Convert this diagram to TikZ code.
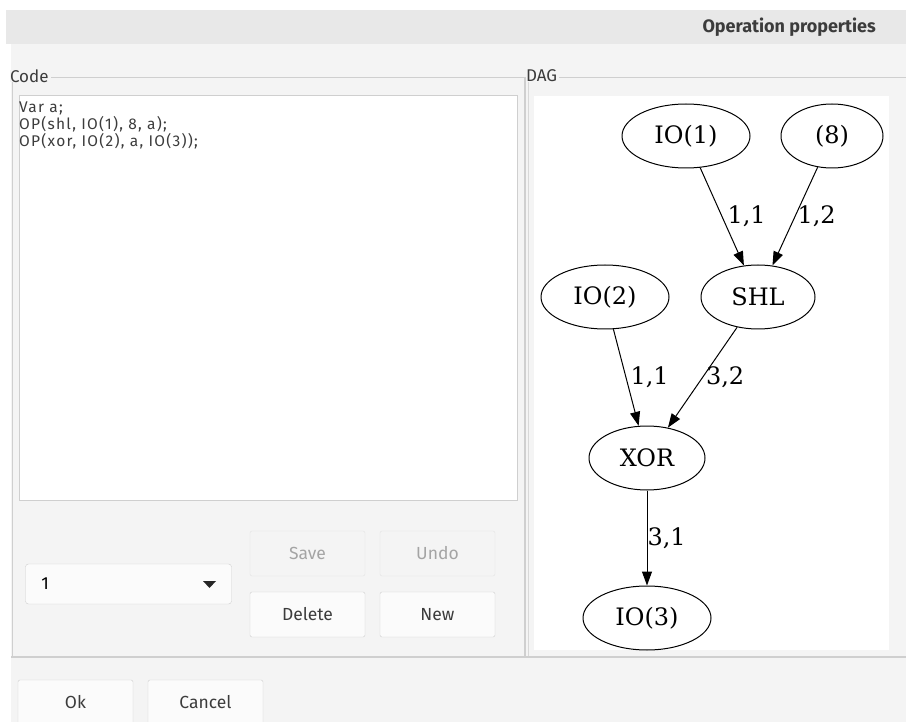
\documentclass[tikz,border=0pt]{standalone}
\usepackage{fontspec}
\setmainfont{Fira Sans}
\newfontfamily\dagfont{DejaVu Serif}
\usetikzlibrary{arrows.meta}
\usetikzlibrary{shapes.geometric}
\usetikzlibrary{positioning}

\definecolor{winbg}{HTML}{F4F4F4}
\definecolor{headbg}{HTML}{E8E8E8}
\definecolor{frameline}{HTML}{CFCFCF}
\definecolor{uitext}{HTML}{3C3C3C}
\definecolor{greytext}{HTML}{A4A4A4}

\tikzset{
	uibutton/.style={draw=frameline, fill=white!60!winbg, rounded corners=2pt,
		minimum width=115pt, minimum height=45pt, inner sep=0pt,
		font=\fontsize{17.5}{20}\selectfont, text=uitext},
	offbutton/.style={uibutton, draw=frameline!60, fill=winbg, text=greytext},
	grouplabel/.style={anchor=west, inner sep=0pt, outer sep=0pt, fill=winbg,
		text=uitext, font=\fontsize{17}{19}\selectfont},
	dagnode/.style={ellipse, draw, line width=1pt, inner sep=0pt,
		minimum height=64pt, font=\dagfont\fontsize{24}{26}\selectfont},
	daglabel/.style={right, inner sep=1pt, font=\dagfont\fontsize{24}{26}\selectfont}
}

\begin{document}
\begin{tikzpicture}[x=1pt, y=-1pt]
	\useasboundingbox (0,0) rectangle (906,722);
	\clip (0,0) rectangle (906,722);
	\fill[white] (0,0) rectangle (906,722);
	\fill[winbg] (11,44) rectangle (906,722);
	\fill[headbg] (6,10) rectangle (906,44);
	\node[anchor=east, text=uitext, inner sep=0pt, font=\fontsize{18}{20}\selectfont\bfseries] (title) at (876,27) {Operation properties};

	% group boxes
	\draw[frameline] (12,657) -- (12,77) -- (524,77);
	\draw[frameline] (528,77) -- (906,77);
	\draw[frameline, line width=2.5pt] (525,77) -- (525,657);
	\draw[frameline!80] (528.5,77) -- (528.5,657);
	\draw[frameline, line width=1.5pt] (11,657) -- (906,657);
	\node[grouplabel] (codelabel) at (10,76) {Code\kern2pt};
	\node[grouplabel] (daglabel) at (526,76) {DAG\kern2pt};

	% code editor
	\node[draw=frameline, fill=white, minimum width=498pt, minimum height=405pt, inner sep=0pt] (codebox) at (268,297.5) {};
	\node[anchor=north west, align=left, inner sep=0pt, text=uitext,
		font=\fontsize{15.5}{17}\selectfont\addfontfeature{LetterSpace=8}] (code) at (19,102)
		{Var a;\\OP(shl, IO(1), 8, a);\\OP(xor, IO(2), a, IO(3));};

	% controls
	\node[draw=frameline, fill=white!60!winbg, rounded corners=3pt, minimum width=206pt, minimum height=40pt] (combo) at (128.5,584) {};
	\node[right=16pt of combo.west, inner sep=0pt, text=black, font=\fontsize{17.5}{20}\selectfont] (comboval) {1};
	\fill[black!85] (203,581) -- (216,581) -- (209.5,588) -- cycle;
	\node[offbutton] (save) at (307.5,553.5) {Save};
	\node[offbutton] (undo) at (437.5,553.5) {Undo};
	\node[uibutton] (delete) at (307.5,614.5) {Delete};
	\node[uibutton] (new) at (437.5,614.5) {New};
	\node[uibutton] (ok) at (75.5,702.5) {Ok};
	\node[uibutton] (cancel) at (205.5,702.5) {Cancel};

	% DAG view
	\fill[white] (534,96) rectangle (889,650);
	\begin{scope}
		\clip (534,96) rectangle (889,650);
		\node[dagnode, minimum width=128pt] (io1) at (686,136) {IO(1)};
		\node[dagnode, minimum width=102pt] (c8) at (832,136) {(8)};
		\node[dagnode, minimum width=114pt] (shl) at (758,297) {SHL};
		\node[dagnode, minimum width=128pt] (io2) at (605,297) {IO(2)};
		\node[dagnode, minimum width=116pt] (xor) at (647,458) {XOR};
		\node[dagnode, minimum width=128pt] (io3) at (647,618) {IO(3)};

		\begin{scope}[line width=1pt, -{Triangle[length=14pt, width=10pt]}]
			\draw (io1) -- node[daglabel, pos=0.5, xshift=4pt] {1,1} (shl);
			\draw (c8) -- node[daglabel, pos=0.5, xshift=1pt] {1,2} (shl);
			\draw (io2) -- node[daglabel, pos=0.5, xshift=3pt] {1,1} (xor);
			\draw (shl) -- node[daglabel, pos=0.5, xshift=2pt] {3,2} (xor);
			\draw (xor) -- node[daglabel, pos=0.5, xshift=-1pt] {3,1} (io3);
		\end{scope}
	\end{scope}
\end{tikzpicture}
\end{document}
